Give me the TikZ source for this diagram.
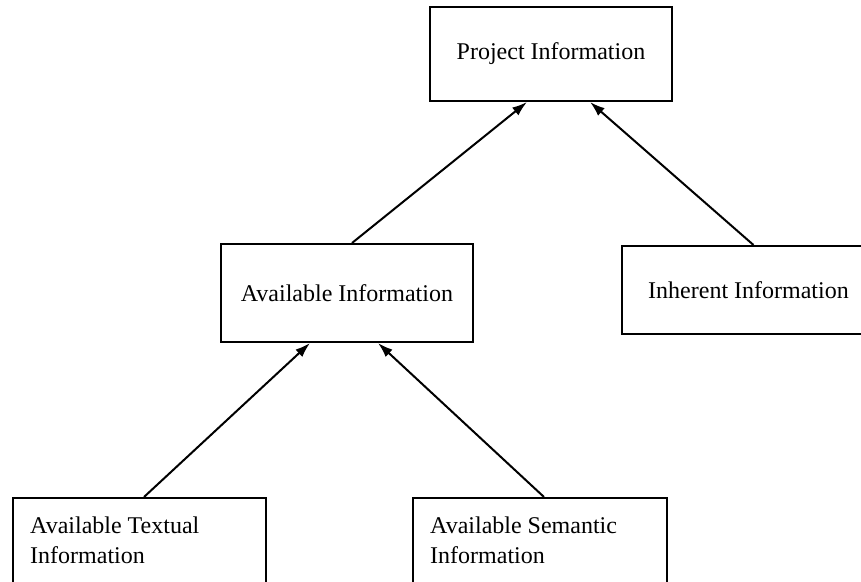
\documentclass[tikz,border=0pt]{standalone}
\usepackage{fontspec}
\setmainfont{Liberation Serif}
\usetikzlibrary{arrows.meta}

\tikzset{
  infobox/.style={draw=black, line width=2pt, rectangle, inner sep=0pt,
    font=\fontsize{24}{30}\selectfont},
  % two-line captions; the base anchor sits on the last line
  boxtext/.style={inner sep=0pt, anchor=base west, align=left,
    font=\fontsize{24}{30}\selectfont},
  link/.style={line width=2pt, -{Latex[length=15pt,width=10pt]}}
}

\begin{document}
\begin{tikzpicture}[x=1pt, y=-1pt]
  \useasboundingbox (0,0) rectangle (861,581);
  \clip (0,0) rectangle (861,581);

  % top level
  \node[infobox, minimum width=242pt, minimum height=94pt] (proj) at (551,54) {Project Information};

  % second level
  \node[infobox, minimum width=252pt, minimum height=98pt] (avail) at (347,293) {Available Information};
  \node[infobox, minimum width=253pt, minimum height=88pt, anchor=north west] (inher) at (621,245) {Inherent Information};

  % third level (boxes run past the lower edge)
  \node[infobox, minimum width=253pt, minimum height=130pt, anchor=north west] (text) at (12,497) {};
  \node[boxtext] (textlbl) at (30,563) {Available Textual\\Information};
  \node[infobox, minimum width=254pt, minimum height=130pt, anchor=north west] (sem) at (412,497) {};
  \node[boxtext] (semlbl) at (430,563) {Available Semantic\\Information};

  % connectors
  \draw[link] ([xshift=5pt]avail.north) -- ([xshift=-24pt]proj.south);
  \draw[link] ([xshift=5pt]inher.north) -- ([xshift=39pt]proj.south);
  \draw[link] ([xshift=4.5pt]text.north) -- ([xshift=-37pt]avail.south);
  \draw[link] ([xshift=4pt]sem.north) -- ([xshift=31pt]avail.south);
\end{tikzpicture}
\end{document}
